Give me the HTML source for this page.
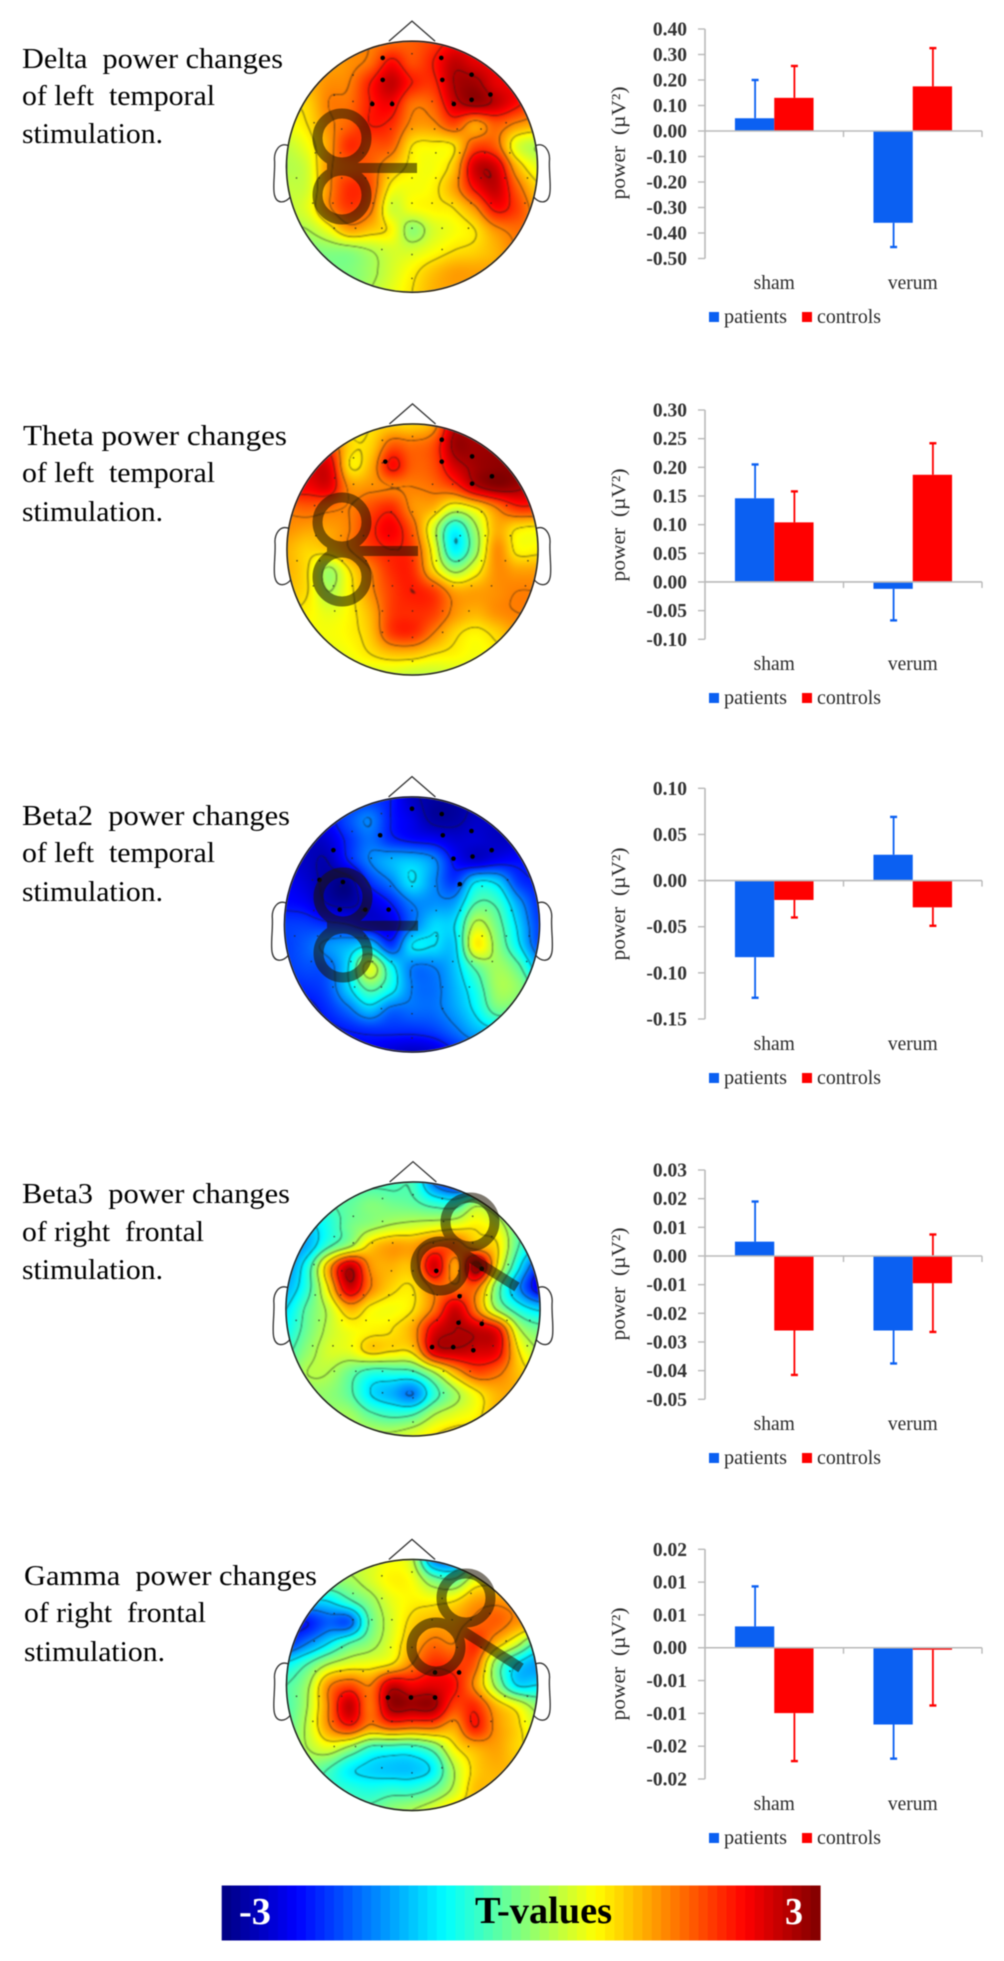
<!DOCTYPE html>
<html lang="en">
<head>
<meta charset="utf-8">
<title>Power changes after stimulation</title>
<style>
html,body{margin:0;padding:0;background:#fff;}
#stage{position:relative;width:1004px;height:1961px;overflow:hidden;background:#fff;}
canvas{position:absolute;filter:blur(0.8px);}
#overlay{position:absolute;left:0;top:0;filter:blur(0.5px);}
.title{font-family:"Liberation Serif",serif;font-size:29px;fill:#000;white-space:pre;}
.tick{font-family:"Liberation Serif",serif;font-size:19.5px;fill:#333;font-weight:bold;stroke:none;}
.cat,.leg,.ytitle{font-family:"Liberation Serif",serif;font-size:19.5px;fill:#2a2a2a;}
.cb{font-family:"Liberation Serif",serif;font-size:38px;font-weight:bold;}
</style>
</head>
<body>
<div id="stage">
<svg id="overlay" xmlns="http://www.w3.org/2000/svg" width="1004" height="1961" viewBox="0 0 1004 1961">
  <g id="colorbar"></g>
  <g id="marks"></g>
  <g>
    <g>
      <text class="title" x="22" y="68" textLength="261" lengthAdjust="spacingAndGlyphs" xml:space="preserve">Delta  power changes</text>
      <text class="title" x="22" y="105" textLength="193" lengthAdjust="spacingAndGlyphs" xml:space="preserve">of left  temporal</text>
      <text class="title" x="22" y="143" textLength="141" lengthAdjust="spacingAndGlyphs">stimulation.</text>
    </g>
    <g>
      <text class="title" x="23" y="445" textLength="264" lengthAdjust="spacingAndGlyphs" xml:space="preserve">Theta power changes</text>
      <text class="title" x="22" y="482" textLength="193" lengthAdjust="spacingAndGlyphs" xml:space="preserve">of left  temporal</text>
      <text class="title" x="22" y="521" textLength="141" lengthAdjust="spacingAndGlyphs">stimulation.</text>
    </g>
    <g>
      <text class="title" x="22" y="825" textLength="268" lengthAdjust="spacingAndGlyphs" xml:space="preserve">Beta2  power changes</text>
      <text class="title" x="22" y="862" textLength="193" lengthAdjust="spacingAndGlyphs" xml:space="preserve">of left  temporal</text>
      <text class="title" x="22" y="901" textLength="141" lengthAdjust="spacingAndGlyphs">stimulation.</text>
    </g>
    <g>
      <text class="title" x="22" y="1203" textLength="268" lengthAdjust="spacingAndGlyphs" xml:space="preserve">Beta3  power changes</text>
      <text class="title" x="22" y="1241" textLength="182" lengthAdjust="spacingAndGlyphs" xml:space="preserve">of right  frontal</text>
      <text class="title" x="22" y="1279" textLength="141" lengthAdjust="spacingAndGlyphs">stimulation.</text>
    </g>
    <g>
      <text class="title" x="24" y="1585" textLength="293" lengthAdjust="spacingAndGlyphs" xml:space="preserve">Gamma  power changes</text>
      <text class="title" x="24" y="1622" textLength="182" lengthAdjust="spacingAndGlyphs" xml:space="preserve">of right  frontal</text>
      <text class="title" x="24" y="1661" textLength="141" lengthAdjust="spacingAndGlyphs">stimulation.</text>
    </g>
  </g>
  <g>
    <text class="cb" x="239" y="1924" fill="#fff" textLength="32" lengthAdjust="spacingAndGlyphs">-3</text>
    <text class="cb" x="475" y="1923" fill="#000" textLength="137" lengthAdjust="spacingAndGlyphs">T-values</text>
    <text class="cb" x="785" y="1924" fill="#fff" textLength="18" lengthAdjust="spacingAndGlyphs">3</text>
  </g>
</svg>
</div>
<script>
/* ---------- bar chart data ---------- */
const categories = ['sham', 'verum'];

const deltaTicks = [0.4, 0.3, 0.2, 0.1, 0, -0.1, -0.2, -0.3, -0.4, -0.5];
const deltaTickLabels = ['0.40', '0.30', '0.20', '0.10', '0.00', '-0.10', '-0.20', '-0.30', '-0.40', '-0.50'];
const deltaPatients = [0.05, -0.36];
const deltaControls = [0.13, 0.175];
const deltaPatientsErr = [0.2, -0.455];
const deltaControlsErr = [0.255, 0.325];

const thetaTicks = [0.3, 0.25, 0.2, 0.15, 0.1, 0.05, 0, -0.05, -0.1];
const thetaTickLabels = ['0.30', '0.25', '0.20', '0.15', '0.10', '0.05', '0.00', '-0.05', '-0.10'];
const thetaPatients = [0.146, -0.012];
const thetaControls = [0.104, 0.187];
const thetaPatientsErr = [0.205, -0.067];
const thetaControlsErr = [0.158, 0.242];

const beta2Ticks = [0.1, 0.05, 0, -0.05, -0.1, -0.15];
const beta2TickLabels = ['0.10', '0.05', '0.00', '-0.05', '-0.10', '-0.15'];
const beta2Patients = [-0.083, 0.028];
const beta2Controls = [-0.021, -0.029];
const beta2PatientsErr = [-0.127, 0.069];
const beta2ControlsErr = [-0.04, -0.049];

const beta3Ticks = [0.03, 0.02, 0.01, 0, -0.01, -0.02, -0.03, -0.04, -0.05];
const beta3TickLabels = ['0.03', '0.02', '0.01', '0.00', '-0.01', '-0.02', '-0.03', '-0.04', '-0.05'];
const beta3Patients = [0.005, -0.026];
const beta3Controls = [-0.026, -0.0095];
const beta3PatientsErr = [0.019, -0.0375];
const beta3ControlsErr = [-0.0415, -0.0265];
const beta3ControlsErrUpper = [null, 0.0075];

const gammaTicks = [0.015, 0.01, 0.005, 0, -0.005, -0.01, -0.015, -0.02];
const gammaTickLabels = ['0.02', '0.01', '0.01', '0.00', '-0.01', '-0.01', '-0.02', '-0.02'];
const gammaPatients = [0.00325, -0.0117];
const gammaControls = [-0.00996, -0.0003];
const gammaPatientsErr = [0.00935, -0.0169];
const gammaControlsErr = [-0.01727, -0.0088];

/* ---------- topographic T-values, 13x13 samples across each head's bounding box ---------- */
const deltaTValues = [
[1.5,1.5,1.5,1.5,1.5,1.6,1.7,1.9,2.2,2.2,2.2,2.2,2.2],
[1.3,1.3,1.3,1.4,1.6,2.2,1.8,2.1,2.6,2.4,2.3,2.3,2.3],
[1.2,1.2,1.4,1.5,2.1,2.6,2.1,2.0,2.7,2.8,2.4,2.3,2.3],
[0.9,1.0,1.5,1.6,2.1,2.3,1.6,1.7,2.5,2.8,2.6,2.2,1.8],
[0.7,0.9,1.4,1.7,2.1,2.0,1.4,1.4,1.8,1.3,1.7,1.4,1.2],
[0.4,0.7,1.3,2.0,1.8,1.7,0.9,0.8,0.9,1.8,1.7,0.6,0.3],
[0.3,0.5,1.4,1.7,1.7,1.2,0.8,0.7,1.1,2.5,2.5,1.2,0.6],
[0.4,0.5,1.4,2.0,1.8,0.8,0.7,0.8,1.3,2.2,2.6,1.7,1.0],
[0.4,0.6,1.4,1.9,1.6,0.5,0.7,0.8,0.9,1.4,2.2,1.9,1.3],
[0.3,0.3,0.7,1.3,1.1,0.8,0.1,0.5,0.7,0.9,1.4,1.6,1.5],
[0.0,0.0,0.05,0.1,0.3,0.5,0.5,0.7,0.9,1.0,1.2,1.5,1.5],
[-0.1,-0.1,-0.05,0.0,0.2,0.5,0.8,1.1,1.3,1.3,1.3,1.4,1.4],
[0.0,0.0,0.0,0.0,0.3,0.6,0.9,1.2,1.3,1.3,1.3,1.3,1.3]];

const thetaTValues = [
[0.7,0.7,0.7,0.7,0.9,1.0,1.0,1.3,2.6,2.6,2.6,2.6,2.6],
[1.9,1.9,1.8,1.0,1.0,1.7,1.6,1.8,2.8,2.8,2.8,2.8,2.8],
[2.4,2.4,2.4,0.9,1.2,2.2,1.7,1.8,2.5,2.8,2.9,2.9,2.9],
[2.3,2.3,2.4,1.4,1.4,1.5,1.5,1.6,1.9,2.6,2.9,2.8,2.5],
[1.6,1.7,1.6,1.5,1.8,2.0,1.4,1.2,0.6,0.9,1.5,2.0,2.0],
[1.4,1.3,1.3,1.5,2.0,2.3,1.7,0.5,-0.7,0.2,1.2,0.9,0.8],
[1.2,1.0,1.1,1.5,1.9,2.1,1.9,0.7,-0.8,0.1,1.4,0.8,0.8],
[1.2,0.9,0.2,0.9,1.5,2.0,2.0,1.0,0.2,0.7,1.4,1.3,1.3],
[1.1,0.9,0.3,0.8,1.4,1.9,2.1,1.9,1.3,1.3,1.4,1.5,1.5],
[0.9,0.8,0.6,0.8,1.2,1.9,2.0,1.9,1.4,1.2,1.4,1.5,1.5],
[0.7,0.7,0.7,0.8,1.1,1.9,2.0,1.5,1.0,0.8,1.0,1.3,1.3],
[0.6,0.6,0.6,0.7,0.9,1.1,1.1,0.9,0.8,0.7,0.8,1.0,1.0],
[0.5,0.5,0.5,0.5,0.5,0.5,0.4,0.4,0.5,0.6,0.7,0.8,0.8]];

const beta2TValues = [
[-2.2,-2.2,-2.2,-2.2,-2.0,-2.1,-2.6,-2.8,-2.8,-2.7,-2.6,-2.6,-2.6],
[-2.2,-2.2,-2.2,-1.8,-1.5,-2.1,-2.4,-2.8,-2.8,-2.6,-2.6,-2.6,-2.6],
[-2.6,-2.6,-2.5,-2.0,-1.6,-2.0,-2.2,-2.3,-2.5,-2.5,-2.6,-2.6,-2.6],
[-2.5,-2.6,-2.7,-2.1,-1.5,-1.2,-1.1,-1.4,-2.2,-2.5,-2.3,-2.2,-2.2],
[-2.3,-2.5,-2.8,-2.9,-2.0,-1.5,-0.9,-1.4,-1.9,-0.9,-1.0,-1.9,-2.1],
[-2.2,-2.3,-2.7,-2.8,-2.5,-2.1,-1.5,-1.4,-1.3,-0.3,-0.4,-1.3,-2.0],
[-1.9,-1.9,-2.0,-2.1,-2.4,-2.4,-1.6,-1.0,-0.9,0.4,-0.1,-1.0,-1.9],
[-1.9,-1.7,-1.4,-1.2,-1.0,-1.9,-0.9,-0.9,-1.0,0.8,0.1,-0.8,-1.8],
[-1.9,-1.8,-1.7,-0.9,0.55,-0.7,-1.5,-1.5,-1.1,-0.2,0.2,-0.2,-1.2],
[-2.0,-2.0,-1.8,-1.0,-0.2,-0.7,-1.5,-1.6,-1.2,-0.6,0.2,0.1,-0.5],
[-2.2,-2.2,-2.0,-1.6,-1.1,-1.6,-1.6,-1.6,-1.3,-0.8,-0.1,-0.2,-0.5],
[-2.2,-2.2,-2.2,-2.1,-2.0,-2.0,-2.0,-1.9,-1.6,-1.2,-1.0,-1.0,-1.0],
[-2.3,-2.3,-2.3,-2.3,-2.3,-2.5,-2.6,-2.5,-2.1,-1.8,-1.8,-1.8,-1.8]];

const beta3TValues = [
[-0.4,-0.4,-0.4,-0.4,-0.4,-0.4,-0.4,-1.6,-2.2,-2.3,-2.3,-2.3,-2.3],
[-0.3,-0.3,-0.3,-0.2,0.0,-0.1,-0.2,-0.5,-0.6,0.1,-0.3,-0.8,-0.8],
[-1.0,-1.0,-0.6,-0.1,0.1,0.3,0.4,0.5,0.6,0.8,0.5,-0.3,-0.5],
[-1.4,-1.2,-0.4,0.2,1.0,1.3,1.3,1.7,1.7,1.2,0.9,-0.3,-0.9],
[-1.4,-0.6,1.2,2.6,1.4,1.2,1.2,2.5,1.3,2.9,0.8,-0.8,-2.0],
[-1.2,-0.5,0.9,2.5,1.5,1.0,0.9,1.6,1.6,1.6,-0.1,-1.4,-2.4],
[-0.9,-0.2,0.4,1.2,0.8,0.7,0.9,1.6,2.5,1.5,0.2,-0.6,-1.0],
[-0.7,-0.1,0.4,0.7,0.8,0.9,1.3,2.4,2.7,2.6,2.2,0.4,-0.1],
[-0.4,0.1,0.5,0.6,1.0,0.9,1.0,2.4,2.6,2.5,2.3,0.9,0.3],
[-0.1,0.3,0.3,-0.1,-0.5,-0.5,-0.4,0.3,1.2,1.8,1.6,1.1,0.8],
[-0.1,0.1,0.1,-0.2,-0.9,-1.2,-1.5,-0.5,0.2,0.8,1.2,1.2,1.0],
[0.2,0.2,0.2,0.2,-0.2,-0.4,-0.3,0.3,0.6,0.8,1.2,1.1,1.0],
[0.4,0.4,0.4,0.4,0.4,0.4,0.6,0.9,1.1,1.1,1.1,1.1,1.1]];

const gammaTValues = [
[0.4,0.4,0.4,0.4,0.5,0.7,0.4,-1.4,-1.6,-0.5,-0.5,-0.5,-0.5],
[0.1,0.1,0.1,0.2,0.5,0.8,0.7,0.0,-0.2,0.6,0.7,0.7,0.7],
[-1.0,-1.0,-0.9,-0.4,0.1,0.6,0.8,0.8,0.9,1.3,1.4,1.3,1.3],
[-2.1,-2.1,-1.7,-1.7,-0.2,0.5,1.0,1.2,1.3,1.6,1.7,1.4,1.3],
[-2.0,-1.5,-0.9,-0.3,0.1,0.6,1.2,1.6,1.5,2.0,1.2,0.5,-0.4],
[-0.8,-0.3,0.3,0.6,0.7,0.9,1.5,2.0,1.9,1.7,0.1,-0.9,-1.3],
[-0.3,0.2,1.4,1.8,1.5,2.5,2.3,2.4,2.2,1.4,0.2,-0.9,-0.9],
[-0.3,0.3,1.5,2.6,1.6,2.8,2.8,2.8,1.9,2.0,1.2,0.7,0.1],
[-0.2,0.4,1.4,2.0,1.4,1.7,1.6,1.6,1.3,2.1,1.4,1.0,0.5],
[0.0,0.3,0.6,0.2,-0.4,-0.5,-0.5,-0.1,0.8,1.2,1.3,1.0,0.8],
[0.0,0.0,-0.3,-0.8,-1.0,-1.1,-1.1,-0.8,0.3,1.0,1.2,1.1,1.0],
[-0.2,-0.3,-0.4,-0.5,-0.6,-0.5,-0.5,-0.2,0.4,1.1,1.1,1.1,1.0],
[-0.2,-0.2,-0.2,-0.2,-0.2,0.1,0.3,0.6,1.0,1.0,1.0,1.0,1.0]];

/* ---------- significant electrodes per head, as [column, row] in the sample grid ---------- */
const deltaSignificant = [[4.6,0.8],[4.6,1.85],[4.1,3.0],[5.05,3.0],[7.4,0.8],[7.45,1.85],[8.85,1.6],[8.0,3.0],[8.85,2.8],[9.75,2.55]];
const thetaSignificant = [[4.7,1.8],[7.4,0.75],[8.85,1.55],[7.4,1.8],[8.85,2.85],[9.8,2.5]];
const beta2Significant = [[6.0,0.55],[7.4,0.8],[4.5,1.8],[7.45,1.8],[8.8,1.6],[2.3,2.5],[9.75,2.5],[7.95,2.9],[8.85,2.8],[1.65,3.9],[2.75,4.0],[8.25,4.1],[2.6,5.3],[3.8,5.3],[4.9,5.3]];
const beta3Significant = [[7.1,4.2],[8.2,5.4],[9.25,4.1],[8.15,6.65],[9.25,6.7],[6.9,7.8],[7.9,7.8],[8.85,7.95]];
const gammaSignificant = [[7.1,5.4],[8.25,5.4],[4.85,6.6],[5.95,6.6],[7.1,6.6]];

/* ---------- layout (pixels), separate from the values above ---------- */
const axisX = 705, axisRight = 982, barW = 39.3, tickLabelX = 687;
const panels = [
 {id:'delta', heat:deltaTValues, sig:deltaSignificant, cx:412, cy:166.7, r:125.5,
  rings:[[342,138],[342,195]], handle:[327,168,417,168],
  top:29, bottom:258.5, catY:289, legY:323, titleY:143,
  ticks:deltaTicks, labels:deltaTickLabels, pat:deltaPatients, con:deltaControls, patErr:deltaPatientsErr, conErr:deltaControlsErr, conUp:null},
 {id:'theta', heat:thetaTValues, sig:thetaSignificant, cx:412.5, cy:549.5, r:125.5,
  rings:[[342,522],[342,577]], handle:[327,551,418,551],
  top:410, bottom:639.3, catY:670, legY:704, titleY:525,
  ticks:thetaTicks, labels:thetaTickLabels, pat:thetaPatients, con:thetaControls, patErr:thetaPatientsErr, conErr:thetaControlsErr, conUp:null},
 {id:'beta2', heat:beta2TValues, sig:beta2Significant, cx:412, cy:924.5, r:127.5,
  rings:[[343,897],[343,953]], handle:[327,925.7,418,925.7],
  top:788.3, bottom:1019, catY:1050, legY:1084, titleY:904,
  ticks:beta2Ticks, labels:beta2TickLabels, pat:beta2Patients, con:beta2Controls, patErr:beta2PatientsErr, conErr:beta2ControlsErr, conUp:null},
 {id:'beta3', heat:beta3TValues, sig:beta3Significant, cx:413, cy:1309, r:127,
  rings:[[470,1222],[440,1266]], handle:[458,1250,517,1287],
  top:1170, bottom:1399.3, catY:1430, legY:1464, titleY:1284,
  ticks:beta3Ticks, labels:beta3TickLabels, pat:beta3Patients, con:beta3Controls, patErr:beta3PatientsErr, conErr:beta3ControlsErr, conUp:beta3ControlsErrUpper},
 {id:'gamma', heat:gammaTValues, sig:gammaSignificant, cx:412, cy:1685, r:125.5,
  rings:[[466,1598],[436,1647]], handle:[452,1624,521,1668],
  top:1549.3, bottom:1779, catY:1810, legY:1844, titleY:1664,
  ticks:gammaTicks, labels:gammaTickLabels, pat:gammaPatients, con:gammaControls, patErr:gammaPatientsErr, conErr:gammaControlsErr, conUp:null}
];

/* common electrode montage: [row offset, column offsets] as fractions of head radius */
const montageRows = [
 [-0.9,[0]],[-0.87,[-0.24,0.23]],[-0.73,[-0.47,0.47]],[-0.69,[-0.24,0.24]],[-0.57,[-0.62,0.62]],
 [-0.52,[-0.47,-0.32,-0.16,0.16,0.32,0.47]],[-0.35,[-0.78,0.75]],[-0.3,[-0.56,-0.17,0,0.18,0.36,0.55]],
 [-0.11,[-0.77,-0.57,-0.39,-0.19,0,0.19,0.38,0.58,0.78]],[0.09,[-0.92,-0.74,-0.56,-0.37,-0.19,0,0.19,0.37,0.55,0.74,0.92]],
 [0.29,[-0.79,-0.63,-0.48,-0.31,-0.16,0,0.16,0.32,0.47,0.63,0.9]],[0.49,[-0.62,-0.45,-0.24,0,0.24,0.45]],
 [0.66,[-0.24,0.24]],[0.7,[0]],[0.89,[0]]
];

const SVGNS = 'http://www.w3.org/2000/svg';
const stage = document.getElementById('stage');
const marks = document.getElementById('marks');
const clamp01 = v => v < 0 ? 0 : v > 1 ? 1 : v;
function jet(t){
  const v = clamp01((t + 3) / 6);
  return [clamp01(1.5 - Math.abs(4*v - 3)), clamp01(1.5 - Math.abs(4*v - 2)), clamp01(1.5 - Math.abs(4*v - 1))];
}
function mk(tag, attrs, parent){
  const el = document.createElementNS(SVGNS, tag);
  for (const k in attrs) el.setAttribute(k, attrs[k]);
  (parent || marks).appendChild(el);
  return el;
}
function catmull(p0, p1, p2, p3, t){
  return 0.5*((2*p1) + (-p0+p2)*t + (2*p0-5*p1+4*p2-p3)*t*t + (-p0+3*p1-3*p2+p3)*t*t*t);
}
function sample(grid, gx, gy){
  const n = grid.length - 1;
  const ix = Math.min(n-1, Math.max(0, Math.floor(gx))), iy = Math.min(n-1, Math.max(0, Math.floor(gy)));
  const tx = gx - ix, ty = gy - iy, col = [];
  for (let j = -1; j <= 2; j++){
    const row = grid[Math.min(n, Math.max(0, iy + j))];
    const a = k => row[Math.min(n, Math.max(0, k))];
    col.push(catmull(a(ix-1), a(ix), a(ix+1), a(ix+2), tx));
  }
  return catmull(col[0], col[1], col[2], col[3], ty);
}

/* ---------- topographic maps ---------- */
function drawHeat(p){
  const size = Math.ceil(p.r*2) + 4;
  const c = document.createElement('canvas');
  
  
  c.width = size; c.height = size;
  const left = Math.round(p.cx - size/2), top = Math.round(p.cy - size/2);
  c.style.left = left + 'px'; c.style.top = top + 'px';
  stage.insertBefore(c, stage.firstChild);
  const ctx = c.getContext('2d');
  const img = ctx.createImageData(size, size);
  const toGrid = v => (v + 1) * 6;
  const step = 0.6, offset = 0.3;
  for (let y = 0; y < size; y++){
    for (let x = 0; x < size; x++){
      const px = left + x + 0.5 - p.cx, py = top + y + 0.5 - p.cy;
      const dist = Math.hypot(px, py);
      const alpha = clamp01(p.r - dist + 0.5);
      if (alpha <= 0) continue;
      const gx = toGrid(px/p.r), gy = toGrid(py/p.r), d = 0.12;
      const t = sample(p.heat, gx, gy);
      const tdx = sample(p.heat, gx + d, gy), tdy = sample(p.heat, gx, gy + d);
      const grad = Math.hypot(tdx - t, tdy - t) / d * (6 / p.r);
      const lv = (t - offset) / step;
      const distLevel = Math.abs(lv - Math.round(lv)) * step;
      const line = clamp01(0.85 - distLevel / Math.max(grad, 0.004)) * 0.8;
      const rgb = jet(t);
      const i = (y*size + x)*4;
      img.data[i] = 255*rgb[0]*(1-line) + 25*line;
      img.data[i+1] = 255*rgb[1]*(1-line) + 25*line;
      img.data[i+2] = 255*rgb[2]*(1-line) + 25*line;
      img.data[i+3] = 255*alpha;
    }
  }
  ctx.putImageData(img, 0, 0);
}

/* ---------- head outline, electrodes, coil ---------- */
function drawHead(p){
  const g = mk('g', {});
  
  
  const k = p.r/125;
  const earD = 'M-123,-21C-133,-25-137,-14-137,-8C-136,4-139,20-137,28C-135,37-127,37-121,30';
  const earL = mk('path', {d:earD, transform:`translate(${p.cx},${p.cy}) scale(${k})`, fill:'none', stroke:'#333', 'stroke-width':1.3}, g);
  
  
  const earR = mk('path', {d:earD, transform:`translate(${p.cx},${p.cy}) scale(${-k},${k})`, fill:'none', stroke:'#333', 'stroke-width':1.3}, g);
  
  
  const nose = mk('path', {d:`M${p.cx-23*k},${p.cy-p.r}L${p.cx},${p.cy-145*k}L${p.cx+23*k},${p.cy-p.r}`, fill:'none', stroke:'#333', 'stroke-width':1.3}, g);
  
  
  const outline = mk('circle', {cx:p.cx, cy:p.cy, r:p.r, fill:'none', stroke:'#222', 'stroke-width':1.5}, g);
  
  
  montageRows.forEach(function(row){
    row[1].forEach(function(xo){
      const dot = mk('circle', {cx:p.cx + xo*p.r, cy:p.cy + row[0]*p.r, r:0.9, fill:'#222', opacity:0.65}, g);
      
      
    });
  });
  p.sig.forEach(function(s){
    const dot = mk('circle', {cx:p.cx + (s[0]/6 - 1)*p.r, cy:p.cy + (s[1]/6 - 1)*p.r, r:2.3, fill:'#000'}, g);
    
    
  });
  const coil = mk('g', {opacity:0.56}, g);
  
  
  p.rings.forEach(function(c){
    const ring = mk('circle', {cx:c[0], cy:c[1], r:24.5, fill:'none', stroke:'#1c1300', 'stroke-width':10}, coil);
    
    
  });
  const h = p.handle;
  const handle = mk('line', {x1:h[0], y1:h[1], x2:h[2], y2:h[3], stroke:'#1c1300', 'stroke-width':10}, coil);
  
  
}

/* ---------- bar charts ---------- */
function drawChart(p){
  const g = mk('g', {});
  
  
  const vMax = p.ticks[0], vMin = p.ticks[p.ticks.length - 1];
  const y = v => p.top + (vMax - v) / (vMax - vMin) * (p.bottom - p.top);
  const band = (axisRight - axisX) / categories.length;
  const center = i => axisX + band * (i + 0.5);
  const axisColor = '#b9b9b9';

  const yAxis = mk('line', {x1:axisX, y1:p.top, x2:axisX, y2:p.bottom, stroke:axisColor, 'stroke-width':1.6}, g);
  
  
  p.ticks.forEach(function(t, i){
    const tk = mk('line', {x1:axisX - 7, y1:y(t), x2:axisX, y2:y(t), stroke:axisColor, 'stroke-width':1.4}, g);
    
    
    const lb = mk('text', {x:tickLabelX, y:y(t) + 6.5, 'text-anchor':'end', class:'tick'}, g);
    
    
    lb.textContent = p.labels[i];
  });

  function series(values, errs, color, offset, name, upper){
    values.forEach(function(v, i){
      const x = center(i) + offset;
      const bar = mk('rect', {x:x, y:Math.min(y(0), y(v)), width:barW, height:Math.abs(y(v) - y(0)), fill:color}, g);
      
      
      const ends = [errs[i]];
      if (upper && upper[i] !== null) ends.push(upper[i]);
      ends.forEach(function(e){
        const ex = x + barW/2 + 0.5;
        const stem = mk('line', {x1:ex, y1:y(v), x2:ex, y2:y(e), stroke:color, 'stroke-width':1.8}, g);
        
        
        const cap = mk('line', {x1:ex - 3.5, y1:y(e), x2:ex + 3.5, y2:y(e), stroke:color, 'stroke-width':2.4}, g);
        
        
      });
    });
  }
  series(p.pat, p.patErr, '#0b60f2', -barW, 'patients', null);
  series(p.con, p.conErr, '#ff0000', 0, 'controls', p.conUp);

  const xAxis = mk('line', {x1:axisX, y1:y(0), x2:axisRight, y2:y(0), stroke:axisColor, 'stroke-width':1.6}, g);
  
  
  for (let i = 1; i <= categories.length; i++){
    const tx = axisX + band * i;
    const tk = mk('line', {x1:tx, y1:y(0), x2:tx, y2:y(0) + 6, stroke:axisColor, 'stroke-width':1.4}, g);
    
    
  }
  categories.forEach(function(c, i){
    const lb = mk('text', {x:center(i), y:p.catY, 'text-anchor':'middle', class:'cat'}, g);
    
    
    lb.textContent = c;
  });

  const title = mk('text', {x:0, y:0, class:'ytitle', 'text-anchor':'middle', transform:`translate(625,${p.titleY}) rotate(-90)`, textLength:113, lengthAdjust:'spacingAndGlyphs'}, g);
  
  
  title.style.whiteSpace = 'pre';
  title.textContent = 'power  (\u00B5V\u00B2)';

  const entry1 = mk('g', {}, g);
  
  
  mk('rect', {x:709, y:p.legY - 11, width:10, height:10, fill:'#0b60f2'}, entry1);
  const t1 = mk('text', {x:724, y:p.legY, class:'leg', textLength:63, lengthAdjust:'spacingAndGlyphs'}, entry1);
  t1.textContent = 'patients';
  const entry2 = mk('g', {}, g);
  
  
  mk('rect', {x:802, y:p.legY - 11, width:10, height:10, fill:'#ff0000'}, entry2);
  const t2 = mk('text', {x:817, y:p.legY, class:'leg', textLength:64, lengthAdjust:'spacingAndGlyphs'}, entry2);
  t2.textContent = 'controls';
}

/* ---------- colour bar ---------- */
(function(){
  const bar = document.getElementById('colorbar');
  const steps = 64, x0 = 221.7, x1 = 820;
  for (let i = 0; i < steps; i++){
    const c = jet(-3 + 6 * (i + 0.5) / steps).map(v => Math.round(v*255));
    const s = mk('rect', {x:x0 + (x1-x0)*i/steps, y:1885.5, width:(x1-x0)/steps + 0.6, height:55, fill:`rgb(${c[0]},${c[1]},${c[2]})`}, bar);
    
    
  }
})();

panels.forEach(function(p){
  drawHeat(p);
  drawHead(p);
  drawChart(p);
});
</script>
</body>
</html>
